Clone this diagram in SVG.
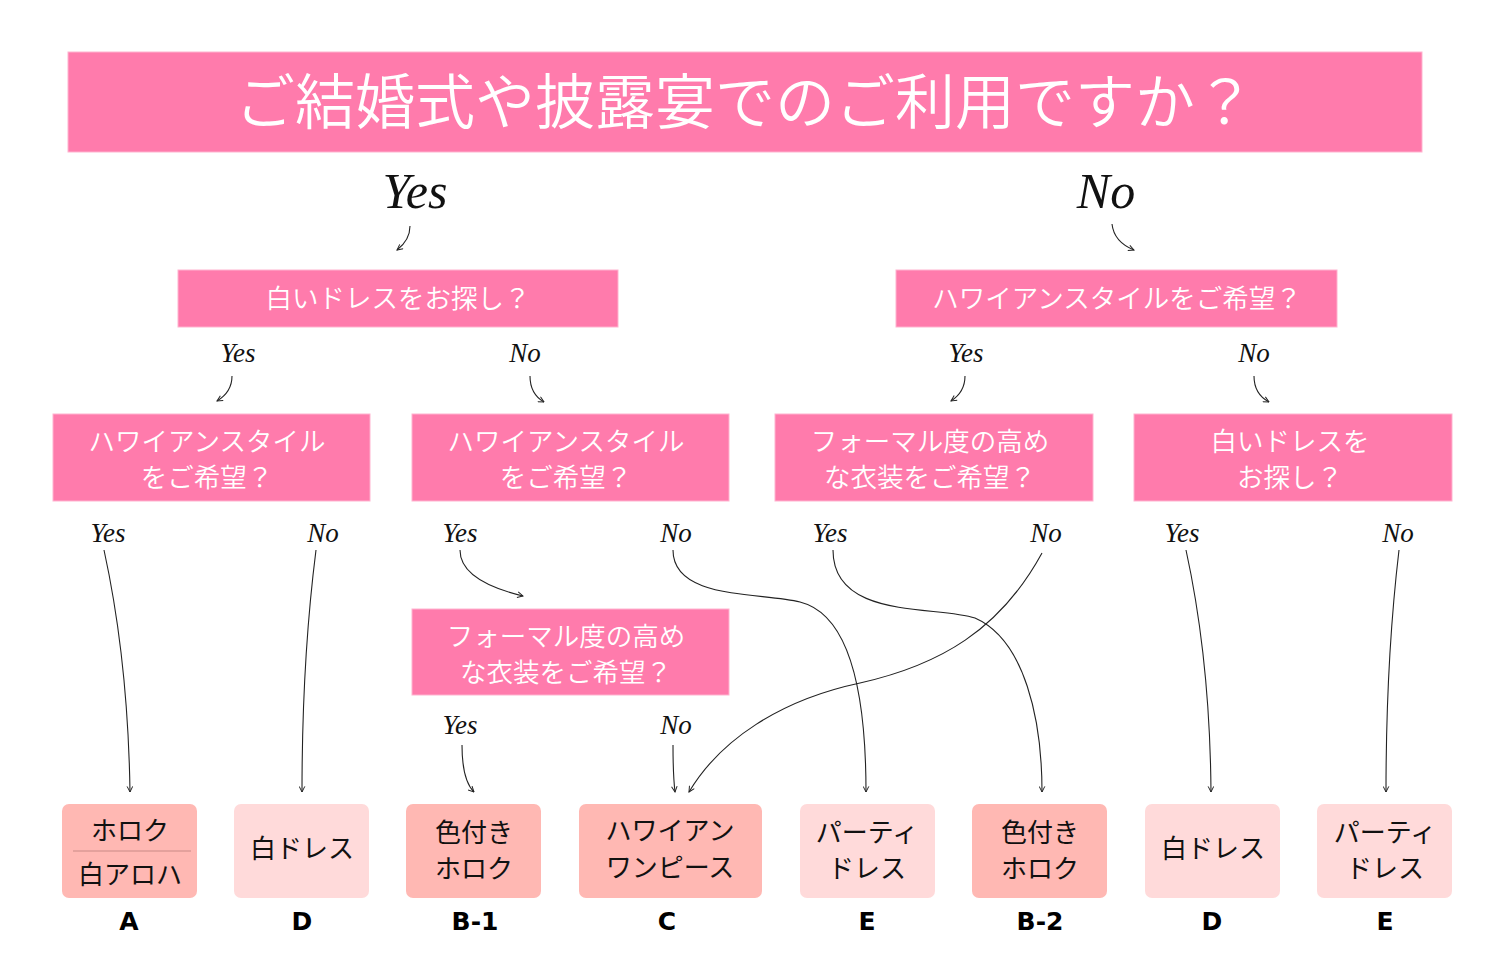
<svg xmlns="http://www.w3.org/2000/svg" width="1500" height="975" viewBox="0 0 1500 975">
<defs>
<marker id="arr" viewBox="0 0 10 10" refX="9" refY="5" markerWidth="7" markerHeight="7" orient="auto" markerUnits="userSpaceOnUse">
<path d="M1,1 L9,5 L1,9" fill="none" stroke="#222" stroke-width="1.4"/>
</marker>
<style>
.q{fill:#FF7BAC;stroke:#FFB3CF;stroke-width:1}
.qt{font-family:"Noto Sans CJK JP","Noto Sans",sans-serif;font-weight:350;fill:#fff;text-anchor:middle}
.yn{font-family:"Liberation Serif","DejaVu Serif",serif;font-style:italic;fill:#111;text-anchor:middle}
.r1{fill:#FFB8B3}
.r2{fill:#FFDADA}
.rt{font-family:"Noto Sans CJK JP","Noto Sans",sans-serif;font-weight:400;font-size:26px;fill:#111;text-anchor:middle}
.lb{font-family:"DejaVu Sans","Liberation Sans",sans-serif;font-weight:bold;font-size:25px;fill:#000;text-anchor:middle}
.c{fill:none;stroke:#222;stroke-width:1.1;marker-end:url(#arr)}
</style>
</defs>
<rect width="1500" height="975" fill="#fff"/>

<g id="header">
<rect class="q" x="68" y="52" width="1354" height="100"/>
<text class="qt" x="745" y="124" font-size="60">ご結婚式や披露宴でのご利用ですか？</text>
</g>

<g id="labels">
<text class="yn" x="415" y="208" font-size="50">Yes</text>
<text class="yn" x="1106" y="208" font-size="50">No</text>
<text class="yn" x="238" y="362" font-size="27">Yes</text>
<text class="yn" x="525" y="362" font-size="27">No</text>
<text class="yn" x="966" y="362" font-size="27">Yes</text>
<text class="yn" x="1254" y="362" font-size="27">No</text>
<text class="yn" x="108" y="542" font-size="27">Yes</text>
<text class="yn" x="323" y="542" font-size="27">No</text>
<text class="yn" x="460" y="542" font-size="27">Yes</text>
<text class="yn" x="676" y="542" font-size="27">No</text>
<text class="yn" x="830" y="542" font-size="27">Yes</text>
<text class="yn" x="1046" y="542" font-size="27">No</text>
<text class="yn" x="1182" y="542" font-size="27">Yes</text>
<text class="yn" x="1398" y="542" font-size="27">No</text>
<text class="yn" x="460" y="734" font-size="27">Yes</text>
<text class="yn" x="676" y="734" font-size="27">No</text>
</g>

<g id="q-white">
<rect class="q" x="178" y="270" width="440" height="57"/>
<text class="qt" x="398" y="308" font-size="26.5">白いドレスをお探し？</text>
</g>
<g id="q-hawaii">
<rect class="q" x="896" y="270" width="441" height="57"/>
<text class="qt" x="1117" y="308" font-size="26.5">ハワイアンスタイルをご希望？</text>
</g>
<g id="q-hawaii-1">
<rect class="q" x="53" y="414" width="317" height="87"/>
<text class="qt" x="207" y="451" font-size="26.5">ハワイアンスタイル</text>
<text class="qt" x="207" y="487" font-size="26.5">をご希望？</text>
</g>
<g id="q-hawaii-2">
<rect class="q" x="412" y="414" width="317" height="87"/>
<text class="qt" x="566" y="451" font-size="26.5">ハワイアンスタイル</text>
<text class="qt" x="566" y="487" font-size="26.5">をご希望？</text>
</g>
<g id="q-formal-1">
<rect class="q" x="775" y="414" width="318" height="87"/>
<text class="qt" x="930" y="451" font-size="26.5">フォーマル度の高め</text>
<text class="qt" x="930" y="487" font-size="26.5">な衣装をご希望？</text>
</g>
<g id="q-white-2">
<rect class="q" x="1134" y="414" width="318" height="87"/>
<text class="qt" x="1290" y="451" font-size="26.5">白いドレスを</text>
<text class="qt" x="1290" y="487" font-size="26.5">お探し？</text>
</g>
<g id="q-formal-2">
<rect class="q" x="412" y="609" width="317" height="86"/>
<text class="qt" x="566" y="646" font-size="26.5">フォーマル度の高め</text>
<text class="qt" x="566" y="682" font-size="26.5">な衣装をご希望？</text>
</g>

<g id="connectors">
<path class="c" d="M410,226 Q410,240 397,250"/>
<path class="c" d="M1112,224 Q1114,242 1134,250"/>
<path class="c" d="M232,376 Q232,392 217,401"/>
<path class="c" d="M530,376 Q530,394 544,402"/>
<path class="c" d="M965,376 Q965,392 951,401"/>
<path class="c" d="M1254,376 Q1254,394 1269,402"/>
<path class="c" d="M104,550 Q128,660 130,792"/>
<path class="c" d="M316,550 Q302,660 302,792"/>
<path class="c" d="M460,550 C460,575 490,588 523,596"/>
<path class="c" d="M673,550 C673,600 760,592 800,602 C852,615 866,700 866,792"/>
<path class="c" d="M833,550 C833,620 935,605 975,618 C1025,640 1042,720 1042,792"/>
<path class="c" d="M1042,553 C1000,630 940,665 860,683 C780,700 720,740 689,792"/>
<path class="c" d="M1186,550 Q1210,660 1211,792"/>
<path class="c" d="M1399,550 Q1386,660 1386,792"/>
<path class="c" d="M462,745 Q462,780 474,792"/>
<path class="c" d="M673,745 Q673,775 675,792"/>
</g>

<g id="r-A">
<rect class="r1" x="62" y="804" width="135" height="94" rx="7"/>
<line x1="73" y1="851" x2="191" y2="851" stroke="#C98A86" stroke-width="1"/>
<text class="rt" x="130" y="840">ホロク</text>
<text class="rt" x="130" y="884">白アロハ</text>
<text class="lb" x="129" y="930">A</text>
</g>
<g id="r-D1">
<rect class="r2" x="234" y="804" width="135" height="94" rx="7"/>
<text class="rt" x="302" y="858">白ドレス</text>
<text class="lb" x="302" y="930">D</text>
</g>
<g id="r-B1">
<rect class="r1" x="406" y="804" width="135" height="94" rx="7"/>
<text class="rt" x="474" y="842">色付き</text>
<text class="rt" x="474" y="878">ホロク</text>
<text class="lb" x="475" y="930">B-1</text>
</g>
<g id="r-C">
<rect class="r1" x="579" y="804" width="183" height="94" rx="7"/>
<text class="rt" x="670" y="840">ハワイアン</text>
<text class="rt" x="670" y="877">ワンピース</text>
<text class="lb" x="667" y="930">C</text>
</g>
<g id="r-E1">
<rect class="r2" x="800" y="804" width="135" height="94" rx="7"/>
<text class="rt" x="867" y="842">パーティ</text>
<text class="rt" x="867" y="878">ドレス</text>
<text class="lb" x="867" y="930">E</text>
</g>
<g id="r-B2">
<rect class="r1" x="972" y="804" width="135" height="94" rx="7"/>
<text class="rt" x="1040" y="842">色付き</text>
<text class="rt" x="1040" y="878">ホロク</text>
<text class="lb" x="1040" y="930">B-2</text>
</g>
<g id="r-D2">
<rect class="r2" x="1145" y="804" width="135" height="94" rx="7"/>
<text class="rt" x="1213" y="858">白ドレス</text>
<text class="lb" x="1212" y="930">D</text>
</g>
<g id="r-E2">
<rect class="r2" x="1317" y="804" width="135" height="94" rx="7"/>
<text class="rt" x="1385" y="842">パーティ</text>
<text class="rt" x="1385" y="878">ドレス</text>
<text class="lb" x="1385" y="930">E</text>
</g>
</svg>
